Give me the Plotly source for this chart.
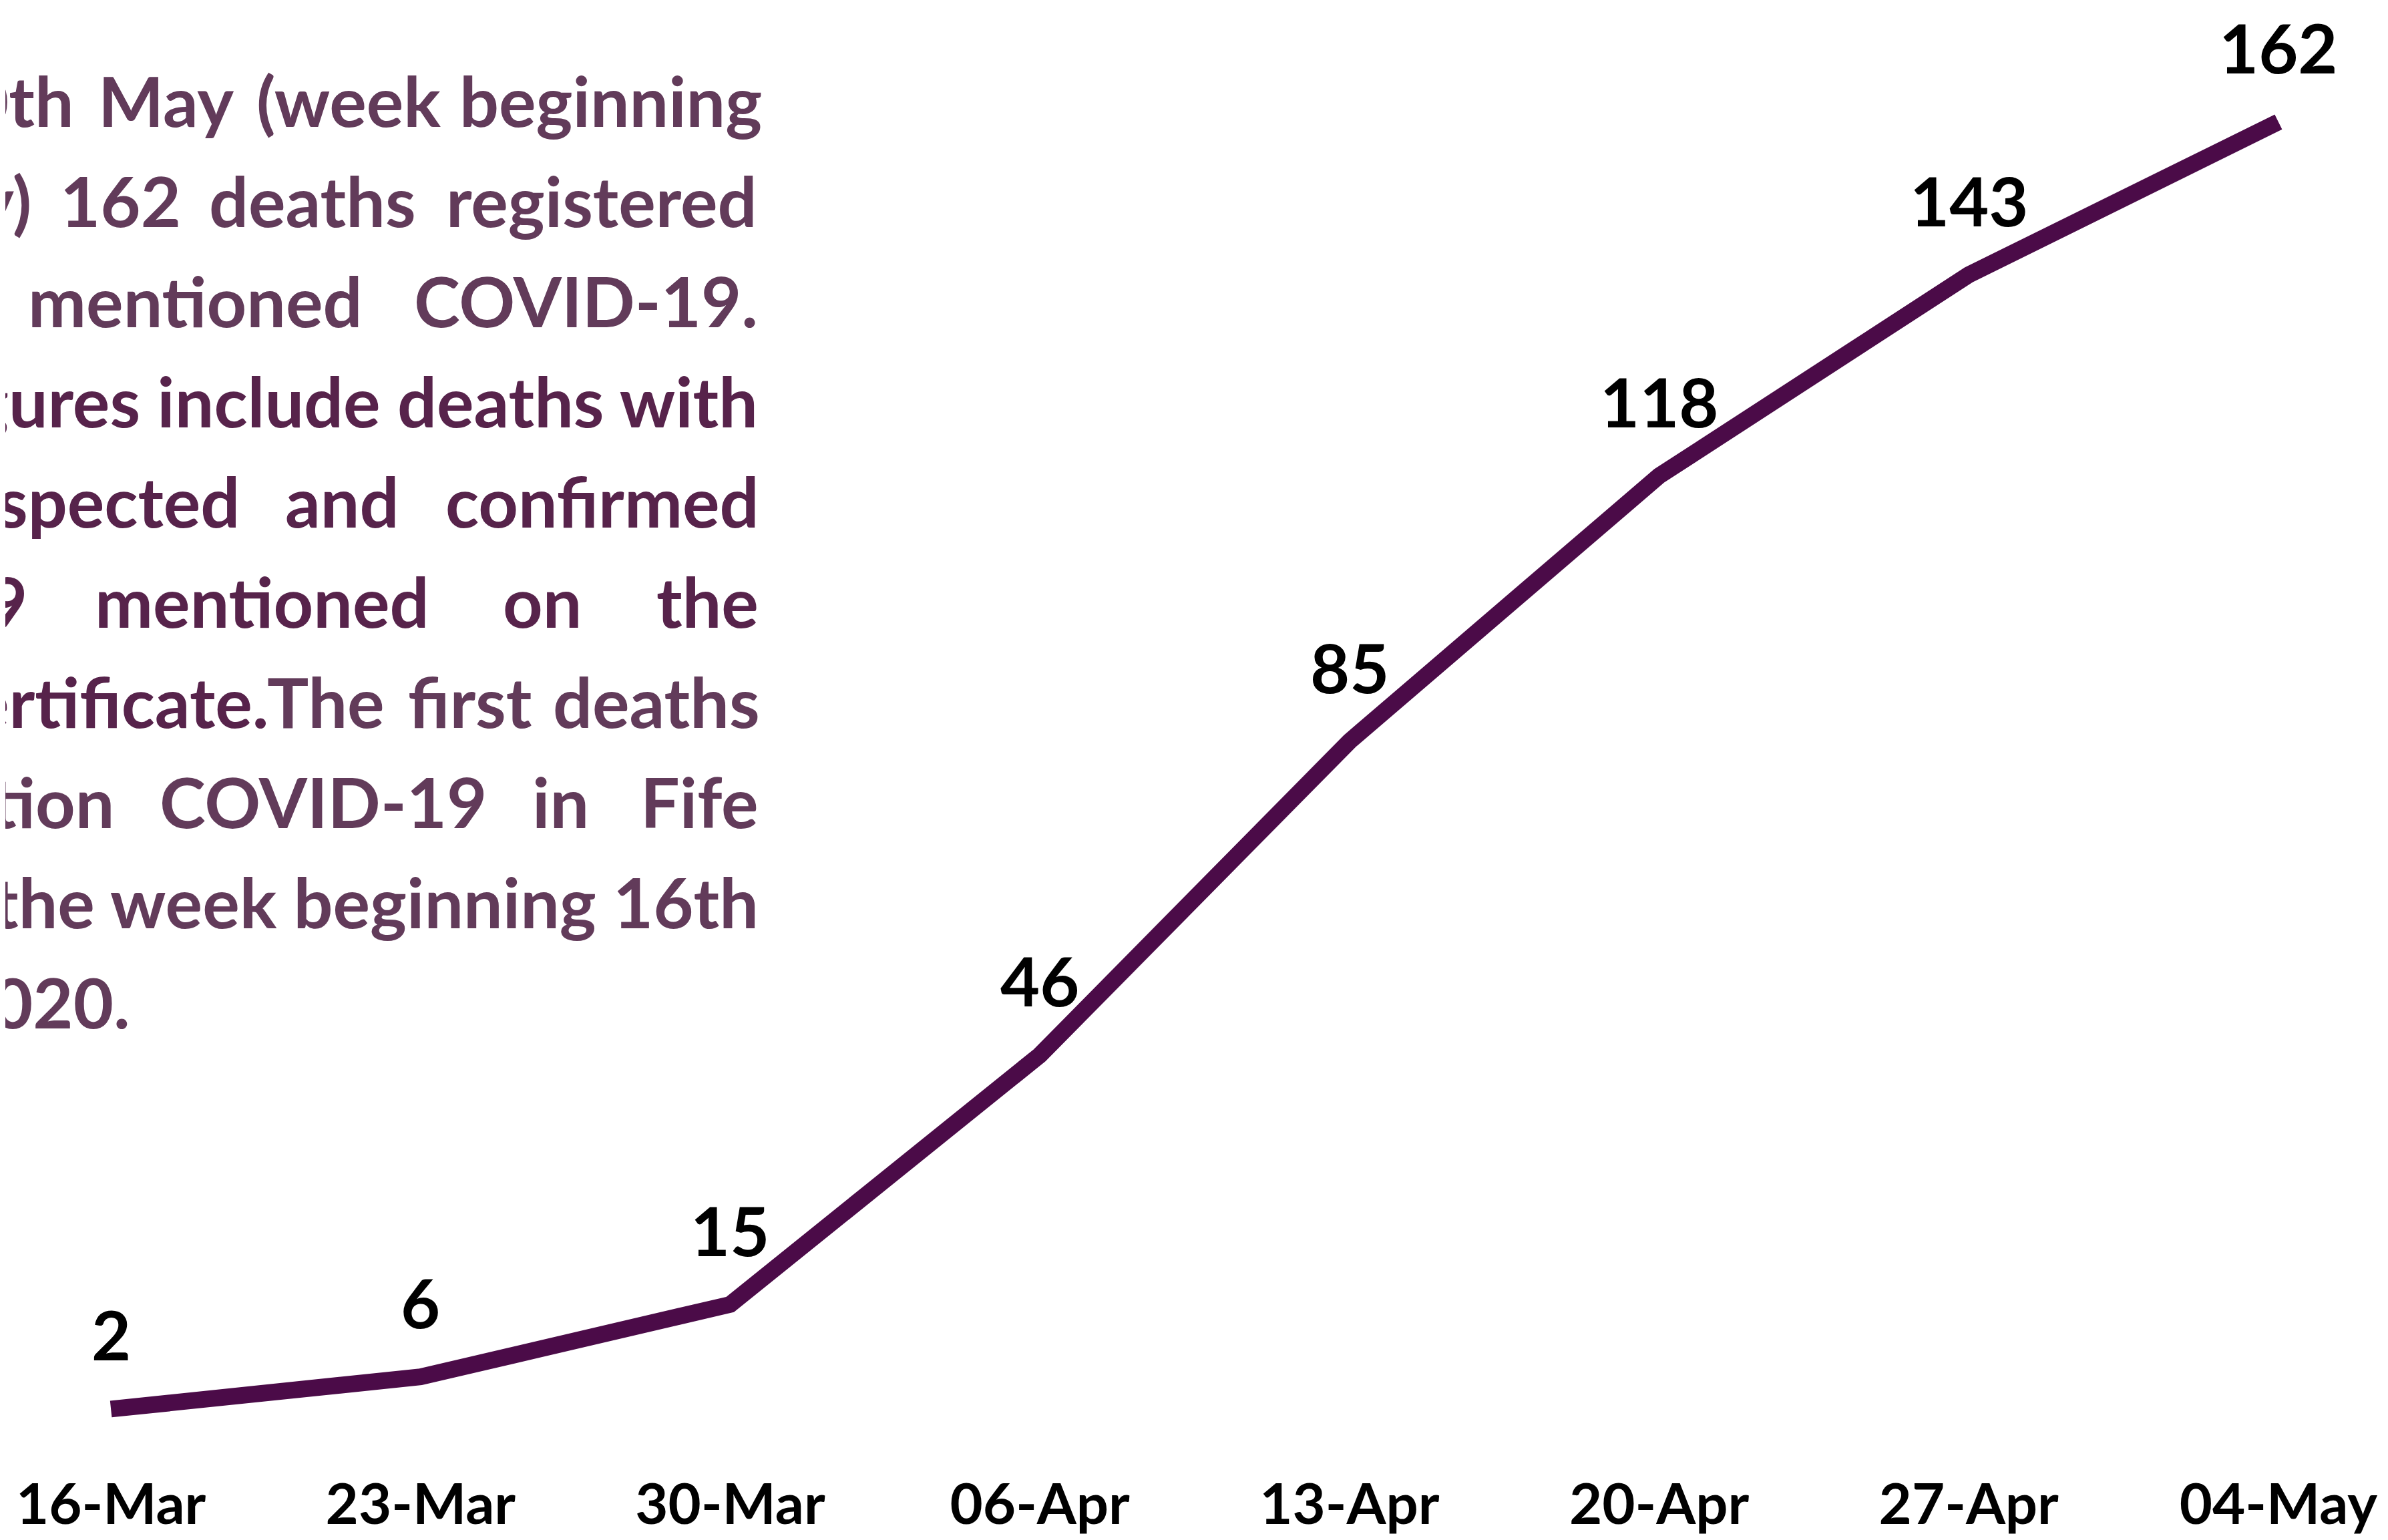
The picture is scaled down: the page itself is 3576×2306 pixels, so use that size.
import plotly.graph_objects as go

# weekly deaths mentioning COVID-19, Fife (cumulative)
weeks = ['16-Mar', '23-Mar', '30-Mar', '06-Apr', '13-Apr', '20-Apr', '27-Apr', '04-May']
deaths = [2, 6, 15, 46, 85, 118, 143, 162]

# text panel on the left, clipped by the image edge (word, right edge px, shade)
LIGHT = '#623b5a'
DARK = '#57234b'
text_lines = [
    [('0th', 105, LIGHT), ('May', 344, LIGHT), ('(week', 654, LIGHT), ('beginning', 1135, LIGHT)],
    [('y)', 41, LIGHT), ('162', 265, LIGHT), ('deaths', 617, LIGHT), ('registered', 1128, LIGHT)],
    [('mentioned', 536, LIGHT), ('COVID-19.', 1129, LIGHT)],
    [('gures include deaths with', 1129, DARK)],
    [('spected', 353, DARK), ('and', 591, DARK), ('confirmed', 1131, DARK)],
    [('9', 35, DARK), ('mentioned', 636, DARK), ('on', 865, DARK), ('the', 1130, DARK)],
    [('ertificate.', 396, DARK), ('The', 570, LIGHT), ('first', 791, LIGHT), ('deaths', 1132, LIGHT)],
    [('tion', 165, LIGHT), ('COVID-19', 723, LIGHT), ('in', 876, LIGHT), ('Fife', 1130, LIGHT)],
    [('the week beginning 16th', 1130, LIGHT)],
    [('020.', 189, LIGHT)],
]

W, H = 3576, 2306
OFF = 8  # page body margin shifts the figure by 8px
L, R, T, B = 27 - OFF, 25 + OFF, 26 - OFF, 172 + OFF
LINE_COLOR = '#4b0b48'
TXT_SIZE = 104


def px_x(px):
    return (px - L) / (W - L - R)


def px_y(py):
    return (H - B - (py - OFF)) / (H - B - T)


fig = go.Figure()
fig.add_trace(go.Scatter(x=weeks, y=deaths, mode='lines',
                         line=dict(color=LINE_COLOR, width=25),
                         hoverinfo='x+y'))

annotations = []
for x, y in zip(weeks, deaths):
    annotations.append(dict(x=x, y=y, text=str(y), showarrow=False,
                            xanchor='center', yanchor='middle', yshift=112,
                            font=dict(family='Lato', size=102, color='#000000', weight='bold')))

for i, words in enumerate(text_lines):
    baseline = 190 + 150 * i
    for word, right, col in words:
        annotations.append(dict(xref='paper', yref='paper',
                                x=px_x(right), y=px_y(baseline - 0.387 * TXT_SIZE),
                                xanchor='right', yanchor='middle', text=word,
                                showarrow=False,
                                font=dict(family='Lato', size=TXT_SIZE, color=col, weight='bold')))

fig.update_layout(width=W, height=H,
                  margin=dict(l=L, r=R, t=T, b=B, autoexpand=False),
                  paper_bgcolor='white', plot_bgcolor='white',
                  showlegend=False,
                  annotations=annotations)
fig.update_xaxes(range=[-0.3, 7.3], showgrid=False, zeroline=False, showline=False,
                 ticks='', ticklabelstandoff=62, automargin=False,
                 tickfont=dict(family='Lato', size=85, color='#000000', weight='bold'))
fig.update_yaxes(range=[0, 175], visible=False, automargin=False)

fig.write_html('out.html')
